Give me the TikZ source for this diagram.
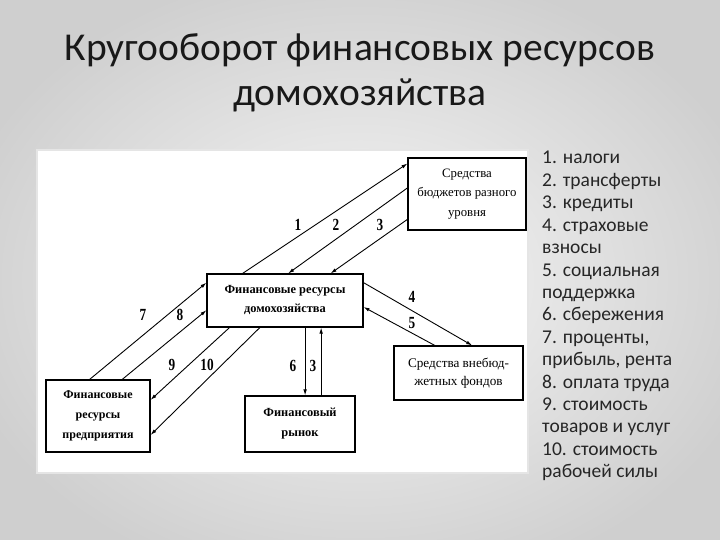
\documentclass[tikz,border=0pt]{standalone}
\usepackage{fontspec}
\setmainfont{Liberation Serif}
\newfontfamily\slidefont{Carlito}
\newfontfamily\numfont[FakeStretch=0.78]{Liberation Serif Bold}
\usetikzlibrary{arrows.meta,calc}
\begin{document}
\begin{tikzpicture}[x=1pt,y=-1pt,
  box/.style={draw=black,line width=1.1pt,inner sep=0pt,align=center,fill=white,
    font=\fontsize{12.8}{19.5}\selectfont},
  arr/.style={line width=0.9pt,-{Latex[length=6pt,width=3.6pt]}},
  num/.style={font=\numfont\fontsize{17}{17}\selectfont,inner sep=0pt},
  listtxt/.style={font=\slidefont\fontsize{19.5}{20}\selectfont,text=black!85,inner sep=0pt,anchor=base west}]
\useasboundingbox (0,0) rectangle (720,540);
\shade[inner color=gray!6,outer color=gray!38] (-60,-40) rectangle (780,600);
% inset
\fill[white,draw=gray!20,line width=2pt] (37,150) rectangle (528,473);
% title
\node[font=\slidefont\fontsize{39.5}{46}\selectfont,text=black!90,anchor=base] (t1) at (360,61) {Кругооборот финансовых ресурсов};
\node[font=\slidefont\fontsize{39.5}{46}\selectfont,text=black!90,anchor=base] (t2) at (360,106) {домохозяйства};
% boxes
\node[box,minimum width=156pt,minimum height=53pt,font=\bfseries\fontsize{12.4}{19}\selectfont] (hh) at (285,300.5) {Финансовые ресурсы\\домохозяйства};
\node[box,minimum width=118pt,minimum height=72pt] (bud) at (467,194) {Средства\\бюджетов разного\\уровня};
\node[box,minimum width=104pt,minimum height=72pt,font=\bfseries\fontsize{12}{20}\selectfont] (ent) at (98,416) {Финансовые\\ресурсы\\предприятия};
\node[box,minimum width=110pt,minimum height=56pt,font=\bfseries\fontsize{12.4}{20}\selectfont] (mkt) at (300,424) {Финансовый\\рынок};
\node[box,minimum width=129pt,minimum height=54pt,font=\fontsize{13.2}{17.5}\selectfont] (ebf) at (458.5,373) {Средства внебюд-\\жетных фондов};
% arrows to/from budget
\draw[arr] ($(hh.north west)!0.23!(hh.north east)$) -- ($(bud.north west)!0.083!(bud.south west)$);
\draw[arr] ($(bud.north west)!0.417!(bud.south west)$) -- ($(hh.north west)!0.52!(hh.north east)$);
\draw[arr] ($(bud.north west)!0.847!(bud.south west)$) -- ($(hh.north west)!0.79!(hh.north east)$);
% extra-budget funds
\draw[arr] ($(hh.north east)!0.17!(hh.south east)$) -- ($(ebf.north west)!0.605!(ebf.north east)$);
\draw[arr] ($(ebf.north west)!0.318!(ebf.north east)$) -- ($(hh.north east)!0.62!(hh.south east)$);
% market
\coordinate (m6) at ($(hh.south west)!0.628!(hh.south east)$);
\coordinate (m3) at ($(hh.south west)!0.73!(hh.south east)$);
\draw[arr] (m6) -- (m6 |- mkt.north);
\draw[arr] (m3 |- mkt.north) -- (m3);
% enterprise
\draw[arr] ($(ent.north west)!0.42!(ent.north east)$) -- ($(hh.north west)!0.17!(hh.south west)$);
\draw[arr] ($(ent.north west)!0.73!(ent.north east)$) -- ($(hh.north west)!0.68!(hh.south west)$);
\draw[arr] ($(hh.south west)!0.147!(hh.south east)$) -- ($(ent.north east)!0.28!(ent.south east)$);
\draw[arr] ($(hh.south west)!0.34!(hh.south east)$) -- ($(ent.north east)!0.76!(ent.south east)$);
% labels
\node[num] (n1) at (298,225) {1};
\node[num] (n2) at (336,225) {2};
\node[num] (n3) at (380,225) {3};
\node[num] (n4) at (412,297) {4};
\node[num] (n5) at (412,323) {5};
\node[num] (n6) at (293,366) {6};
\node[num] (n3b) at (313,366) {3};
\node[num] (n7) at (143,315) {7};
\node[num] (n8) at (180,315) {8};
\node[num] (n9) at (172,365) {9};
\node[num] (n10) at (207,365) {10};
% list
\foreach \t [count=\i] in {1. налоги, 2. трансферты, 3. кредиты, 4. страховые, взносы, 5. социальная, поддержка, 6. сбережения, {7. проценты,}, {прибыль, рента}, 8. оплата труда, 9. стоимость, товаров и услуг, 10. стоимость, рабочей силы}
  \node[listtxt] (li\i) at (542,{164+(\i-1)*22.4}) {\t};
\end{tikzpicture}
\end{document}
